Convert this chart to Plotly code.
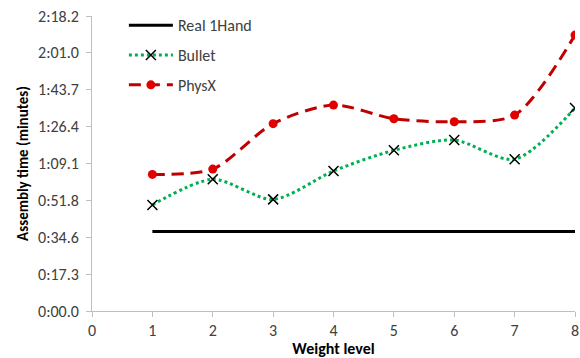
import plotly.graph_objects as go

weight_levels = [1, 2, 3, 4, 5, 6, 7, 8]
real_1hand = [37.2, 37.2, 37.2, 37.2, 37.2, 37.2, 37.2, 37.2]
bullet = [49.7, 61.7, 52.3, 65.6, 75.3, 80.1, 71.1, 95.1]
physx = [64.0, 66.5, 87.8, 96.5, 90.1, 88.7, 91.8, 129.3]

y_tick_vals = [0, 17.28, 34.56, 51.84, 69.12, 86.4, 103.68, 120.96, 138.24]
y_tick_text = ["0:00.0", "0:17.3", "0:34.6", "0:51.8", "1:09.1", "1:26.4", "1:43.7", "2:01.0", "2:18.2"]
x_tick_vals = [0, 1, 2, 3, 4, 5, 6, 7, 8]

FONT = "Carlito, Lato, sans-serif"

fig = go.Figure()
fig.add_trace(go.Scatter(
    x=weight_levels, y=real_1hand, name="Real 1Hand", mode="lines",
    line=dict(color="black", width=3), legendgroup="a"))
fig.add_trace(go.Scatter(
    x=weight_levels, y=bullet, name="Bullet", mode="lines+markers",
    line=dict(color="#00B050", width=3, dash="dot", shape="spline", smoothing=0.8),
    marker=dict(symbol="x-thin", size=10, line=dict(color="black", width=1.5), color="black"),
    legendgroup="b"))
fig.add_trace(go.Scatter(
    x=weight_levels, y=physx, name="PhysX", mode="lines+markers",
    line=dict(color="#C00000", width=3, dash="12px,7px", shape="spline", smoothing=0.8),
    marker=dict(symbol="circle", size=9, color="#E00000"),
    legendgroup="c"))

fig.update_layout(
    width=580, height=358,
    margin=dict(l=92, r=1, t=16, b=47),
    paper_bgcolor="white", plot_bgcolor="white",
    font=dict(family=FONT, size=16, color="#404040"),
    showlegend=True,
    legend=dict(x=0.066, y=1.026, xanchor="left", yanchor="top",
                bgcolor="rgba(0,0,0,0)", tracegroupgap=6, itemwidth=44,
                font=dict(family=FONT, size=16, color="#404040")),
    xaxis=dict(range=[0, 8], tickvals=x_tick_vals, showgrid=False, zeroline=False,
               showline=True, linecolor="#BFBFBF", linewidth=1,
               ticks="outside", ticklen=5, tickcolor="#BFBFBF",
               ticklabeloverflow="allow",
               title=dict(text="<b>Weight level</b>", font=dict(family=FONT, size=16, color="black"), standoff=0)),
    yaxis=dict(range=[0, 138.24], tickvals=y_tick_vals, ticktext=y_tick_text,
               showgrid=False, zeroline=False,
               showline=True, linecolor="#BFBFBF", linewidth=1,
               ticks="outside", ticklen=5, tickcolor="#BFBFBF",
               ticklabelstandoff=4,
               title=dict(text="<b>Assembly time (minutes)</b>", font=dict(family=FONT, size=15, color="black"), standoff=5)),
)

fig.write_html("out.html", config={"displayModeBar": False},
               post_script="document.body.style.margin='0';")
